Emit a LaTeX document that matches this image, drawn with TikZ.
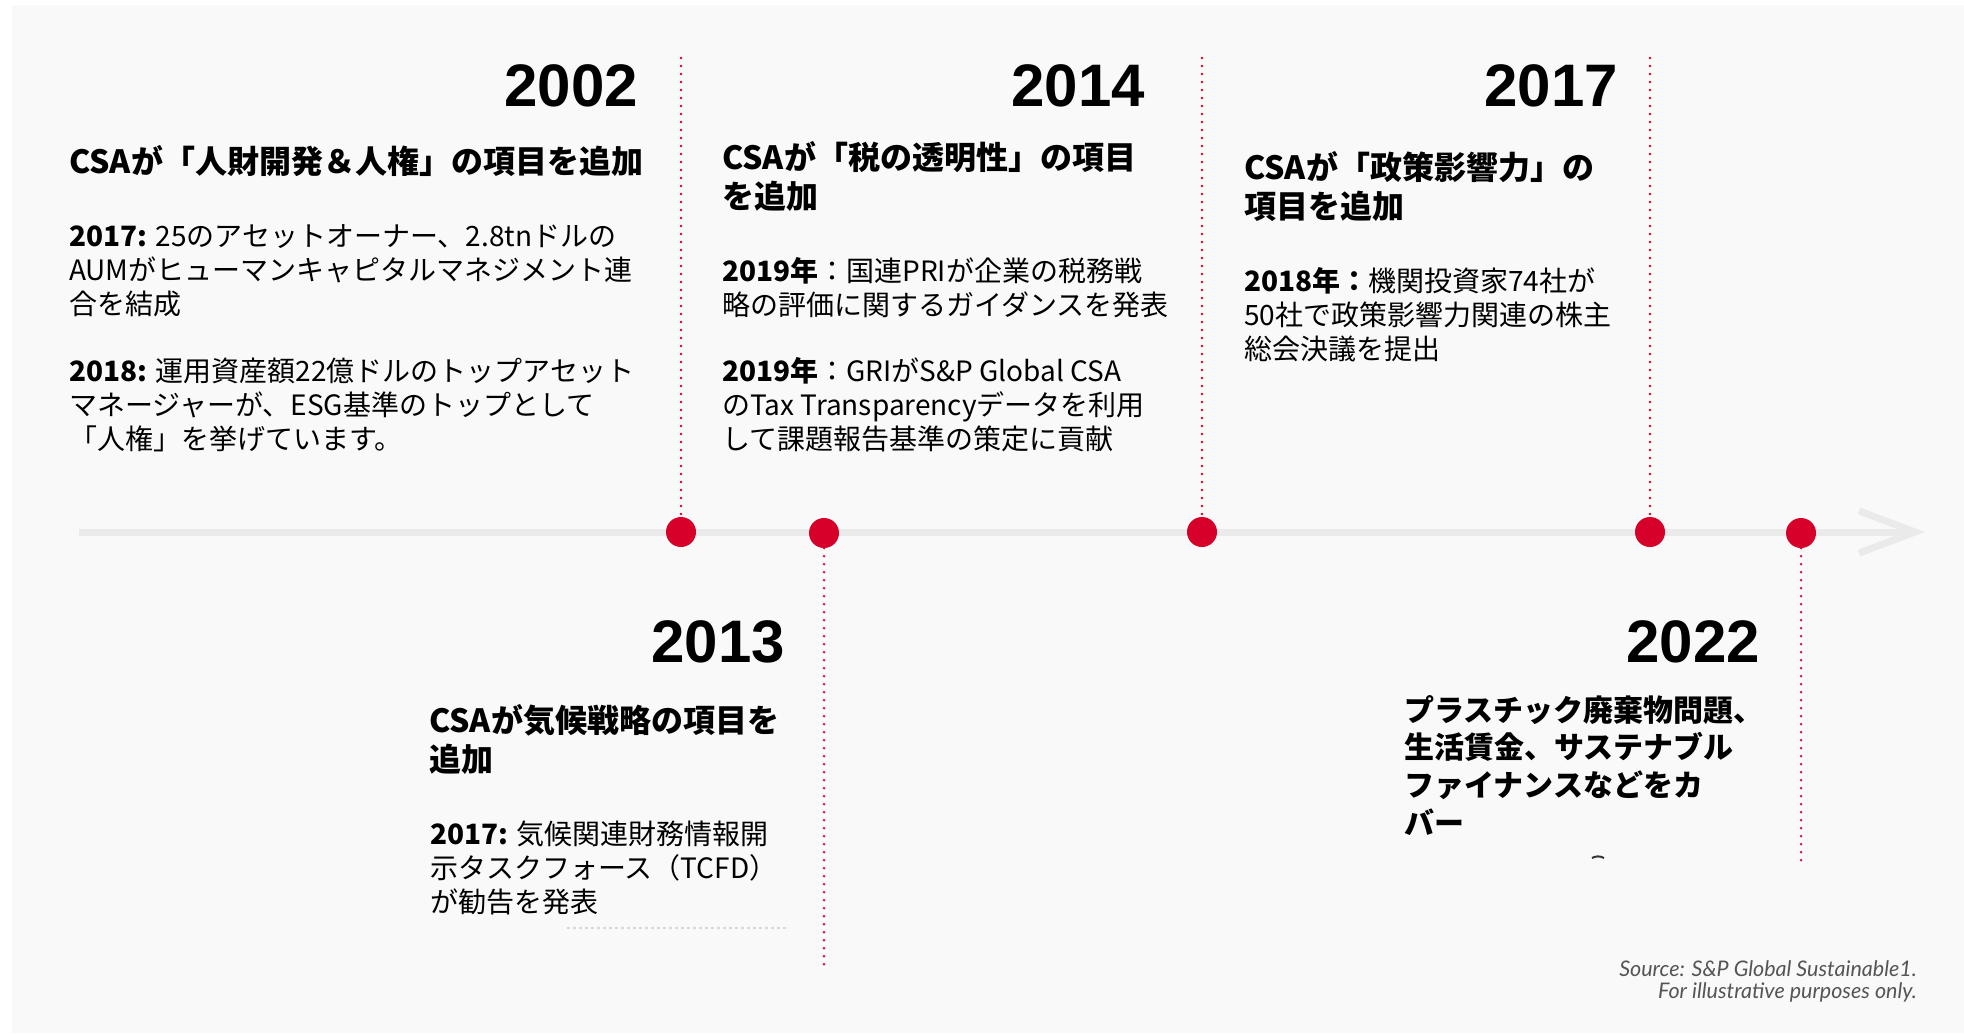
\documentclass[tikz,border=0pt]{standalone}
\usepackage{fontspec}
\setmainfont{Liberation Sans}
\newfontfamily\jp{Noto Sans CJK JP}
\newfontfamily\yr{Liberation Sans}
\newfontfamily\srcf{Lato}
\definecolor{spred}{RGB}{214,0,42}
\definecolor{bgc}{RGB}{249,249,249}
\definecolor{tlc}{RGB}{234,234,234}
\definecolor{srcc}{RGB}{85,85,85}
\newcommand{\tlLines}[1]{\parbox[t]{700pt}{\raggedright #1}}
\newcommand{\tlLinesR}[1]{\parbox[t]{500pt}{\raggedleft #1}}
\tikzset{
  yearlbl/.style={anchor=base east, inner sep=0pt, font=\yr\bfseries\fontsize{60}{60}\selectfont},
  ttl/.style={anchor=base west, inner sep=0pt, font=\jp\bfseries\fontsize{32}{39}\selectfont},
  ttlb/.style={anchor=base west, inner sep=0pt, font=\jp\bfseries\fontsize{30}{37.7}\selectfont},
  bdy/.style={anchor=base west, inner sep=0pt, font=\jp\fontsize{28}{34}\selectfont},
  srcnote/.style={anchor=base east, inner sep=0pt, text=srcc, font=\srcf\itshape\fontsize{21.5}{22}\selectfont},
  evdot/.style={circle, fill=spred, inner sep=0pt, minimum size=30pt},
  guide/.style={draw=spred, line width=2.6pt, line cap=round, dash pattern=on 0pt off 8pt},
  tline/.style={draw=tlc, line width=7pt},
}
\begin{document}
\begin{tikzpicture}[x=1pt,y=-1pt]
\useasboundingbox (0,0) rectangle (1964,1033);
\fill[white] (0,0) rectangle (1964,1033);
\fill[bgc] (12,5) rectangle (1964,1033);

% timeline
\coordinate (tlstart) at (79,532);
\coordinate (tltip) at (1915,532);
\coordinate (chevA) at (1859,511);
\coordinate (chevB) at (1859,553);
\draw[tline] (tlstart) -- (tltip);
\draw[tline, line join=miter, line cap=butt] (chevA) -- (tltip) -- (chevB);

% event dots
\node[evdot] (d2002) at (681,532) {};
\node[evdot] (d2013) at (824,533) {};
\node[evdot] (d2014) at (1202,532) {};
\node[evdot] (d2017) at (1650,532) {};
\node[evdot] (d2022) at (1801,533) {};

% guides
\coordinate (g2002) at (681,58);
\coordinate (g2014) at (1202,58);
\coordinate (g2017) at (1650,58);
\coordinate (g2013) at (824,967);
\coordinate (g2022) at (1801,864);
\draw[guide] (g2002) -- (d2002.north);
\draw[guide] (g2014) -- (d2014.north);
\draw[guide] (g2017) -- (d2017.north);
\draw[guide] (d2013.south) -- (g2013);
\draw[guide] (d2022.south) -- (g2022);

% years
\node[yearlbl] (y2002) at (638,106) {2002};
\node[yearlbl] (y2014) at (1145,106) {2014};
\node[yearlbl] (y2017) at (1618,106) {2017};
\node[yearlbl] (y2013) at (785,662) {2013};
\node[yearlbl] (y2022) at (1760,662) {2022};

% 2002 block
\node[ttl] (t2002) at (69,173) {\tlLines{CSAが「人財開発＆人権」の項目を追加}};
\node[bdy] (b2002a) at (69,246) {\tlLines{{\bfseries 2017:} 25のアセットオーナー、2.8tnドルの\\AUMがヒューマンキャピタルマネジメント連\\合を結成}};
\node[bdy] (b2002b) at (69,381) {\tlLines{{\bfseries 2018:} 運用資産額22億ドルのトップアセット\\マネージャーが、ESG基準のトップとして\\「人権」を挙げています。}};

% 2014 block
\node[ttl] (t2014) at (722,169) {\tlLines{CSAが「税の透明性」の項目\\を追加}};
\node[bdy] (b2014a) at (722,281) {\tlLines{{\bfseries 2019年}：国連PRIが企業の税務戦\\略の評価に関するガイダンスを発表}};
\node[bdy] (b2014b) at (722,381) {\tlLines{{\bfseries 2019年}：GRIがS\&P Global CSA\\のTax Transparencyデータを利用\\して課題報告基準の策定に貢献}};

% 2017 block
\node[ttl] (t2017) at (1244,179) {\tlLines{CSAが「政策影響力」の\\項目を追加}};
\node[bdy] (b2017) at (1244,291) {\tlLines{{\bfseries 2018年：}機関投資家74社が\\50社で政策影響力関連の株主\\総会決議を提出}};

% 2013 block
\node[ttl] (t2013) at (429,732) {\tlLines{CSAが気候戦略の項目を\\追加}};
\node[bdy] (b2013) at (430,844) {\tlLines{{\bfseries 2017:} 気候関連財務情報開\\示タスクフォース（TCFD）\\が勧告を発表}};
\draw[draw=black!15, line width=1.2pt, dash pattern=on 3pt off 3pt] (567,928) -- (787,928);

% 2022 block
\node[ttlb] (t2022) at (1404,721) {\tlLines{プラスチック廃棄物問題、\\生活賃金、サステナブル\\ファイナンスなどをカ\\バー}};
\draw[black!80, line width=2pt] (1592,858) arc[start angle=120, end angle=60, radius=12pt];

% source
\node[srcnote] (src) at (1917,976) {\tlLinesR{Source: S\&P Global Sustainable1.\\For illustrative purposes only.}};
\end{tikzpicture}
\end{document}
